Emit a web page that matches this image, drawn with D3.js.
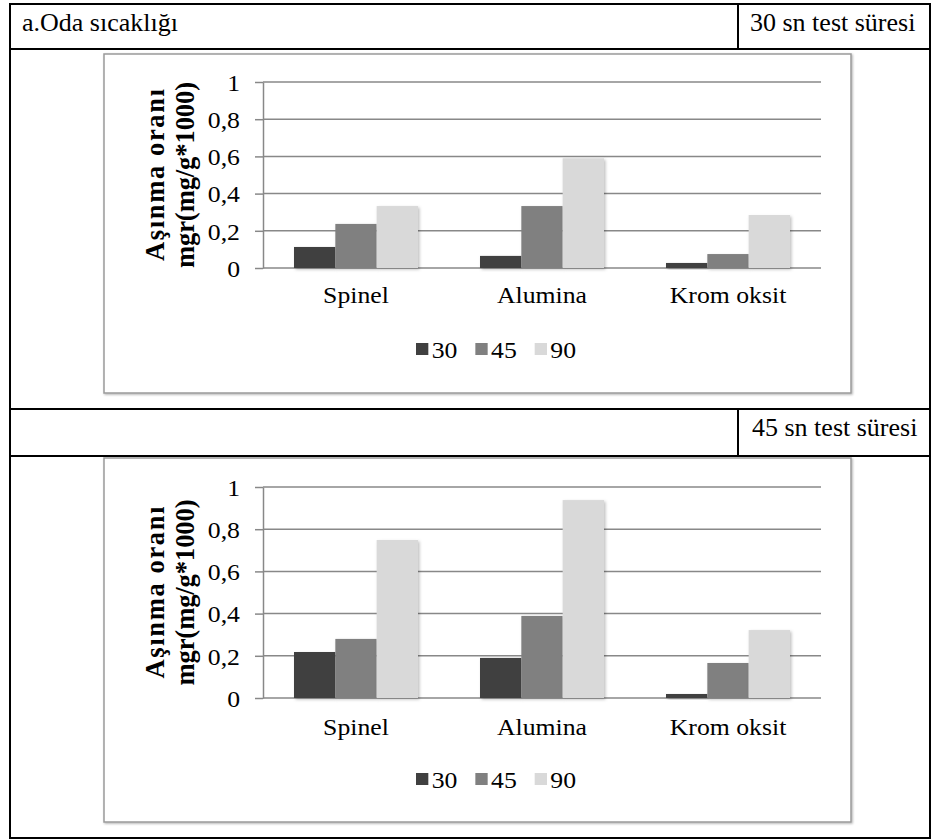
<!DOCTYPE html>
<html><head><meta charset="utf-8">
<script src="https://cdn.jsdelivr.net/npm/d3@7"></script>
<style>body{margin:0;background:#fff} svg{display:block}</style>
</head><body><svg id="c" width="931" height="839"></svg>
<script>
// ---- data ----
const categories = ["Spinel", "Alumina", "Krom oksit"];
const seriesNames = ["30", "45", "90"];
const chart1_s30 = [0.113, 0.065, 0.027];
const chart1_s45 = [0.237, 0.333, 0.075];
const chart1_s90 = [0.333, 0.590, 0.285];
const chart2_s30 = [0.218, 0.190, 0.019];
const chart2_s45 = [0.280, 0.389, 0.166];
const chart2_s90 = [0.749, 0.938, 0.322];
const tickValues = [0, 0.2, 0.4, 0.6, 0.8, 1];
const tickLabels = ["0", "0,2", "0,4", "0,6", "0,8", "1"];
const yTitle1 = "Aşınma oranı";
const yTitle2 = "mgr(mg/g*1000)";
const headerLeft = "a.Oda sıcaklığı";
const header1 = "30 sn test süresi";
const header2 = "45 sn test süresi";
const colors = ["#404040", "#808080", "#d9d9d9"];

// ---- drawing ----
const FONT = "'Liberation Serif','Times New Roman',serif";
const SX = 1.12;   // horizontal stretch of chart text
const FS = 23;
const svg = d3.select("#c");

const defs = svg.append("defs");
const f = defs.append("filter").attr("id", "sh").attr("x", "-20%").attr("y", "-20%").attr("width", "150%").attr("height", "150%");
f.append("feDropShadow").attr("dx", 1.5).attr("dy", 1.5).attr("stdDeviation", 1.8).attr("flood-color", "#000").attr("flood-opacity", 0.25);
const f2 = defs.append("filter").attr("id", "fsh").attr("x", "-5%").attr("y", "-5%").attr("width", "110%").attr("height", "110%");
f2.append("feDropShadow").attr("dx", 1).attr("dy", 1).attr("stdDeviation", 1).attr("flood-color", "#000").attr("flood-opacity", 0.3);

// table
const T = {l: 10, r: 930, t: 4, b: 838};
const tbl = svg.append("g").attr("stroke", "#000").attr("stroke-width", 2);
tbl.append("rect").attr("x", T.l).attr("y", T.t).attr("width", T.r - T.l).attr("height", T.b - T.t).attr("fill", "none");
[49, 409, 456].forEach(yy => tbl.append("line").attr("x1", T.l).attr("x2", T.r).attr("y1", yy).attr("y2", yy));
tbl.append("line").attr("x1", 738).attr("x2", 738).attr("y1", T.t).attr("y2", 49);
tbl.append("line").attr("x1", 738).attr("x2", 738).attr("y1", 409).attr("y2", 456);

const htext = (x, y, s) => svg.append("text").attr("x", x).attr("y", y).attr("font-family", FONT)
  .attr("font-size", 26).attr("fill", "#000").text(s);
htext(22, 31, headerLeft);
htext(750, 31, header1);
htext(752, 436, header2);

function drawChart(cfg, s30, s45, s90) {
  const series = [s30, s45, s90];
  const g = svg.append("g");
  g.append("rect").attr("x", cfg.fx0).attr("y", cfg.fy0).attr("width", cfg.fx1 - cfg.fx0).attr("height", cfg.fy1 - cfg.fy0)
    .attr("fill", "#fff").attr("stroke", "#9a9a9a").attr("stroke-width", 1.5).attr("filter", "url(#fsh)");

  const y = d3.scaleLinear().domain([0, 1]).range([cfg.y0, cfg.y1]);
  const x = d3.scaleBand().domain(categories).range([cfg.px0, cfg.px1]).paddingInner(1/3).paddingOuter(1/6);
  const xs = d3.scaleBand().domain(seriesNames).range([0, x.bandwidth()]);

  // gridlines
  g.append("g").selectAll("line").data(tickValues).join("line")
    .attr("x1", cfg.px0).attr("x2", cfg.px1).attr("y1", d => y(d)).attr("y2", d => y(d))
    .attr("stroke", "#888").attr("stroke-width", 1.5);

  // y axis
  const ya = g.append("g").attr("transform", `translate(${cfg.px0},0)`)
    .call(d3.axisLeft(y).tickValues(tickValues).tickFormat((d, i) => tickLabels[i]).tickSize(8).tickSizeOuter(0));
  ya.select(".domain").attr("stroke", "#888").attr("stroke-width", 1.5);
  ya.selectAll(".tick line").attr("stroke", "#888").attr("stroke-width", 1.5);
  ya.selectAll(".tick text").attr("font-family", FONT).attr("font-size", FS).attr("fill", "#000")
    .attr("x", -23 / SX).attr("dy", "0.36em").attr("transform", `scale(${SX},1)`);

  // bars
  const bars = g.append("g");
  series.forEach((vals, si) => {
    bars.selectAll(null).data(categories.map((c, i) => ({c, v: vals[i]}))).join("rect")
      .attr("x", d => x(d.c) + xs(seriesNames[si])).attr("width", xs.bandwidth())
      .attr("y", d => y(d.v)).attr("height", d => y(0) - y(d.v))
      .attr("fill", colors[si]).attr("filter", "url(#sh)");
  });

  // category axis
  const xa = g.append("g").attr("transform", `translate(0,${cfg.y0})`)
    .call(d3.axisBottom(x).tickSize(0).tickPadding(cfg.catPad));
  xa.select(".domain").remove();
  xa.selectAll(".tick text").attr("font-family", FONT).attr("font-size", FS).attr("fill", "#000")
    .attr("transform", `scale(${SX},1)`);

  // y title
  const cy = (cfg.y0 + cfg.y1) / 2;
  [[yTitle1, cfg.t1x, 172], [yTitle2, cfg.t2x, 186]].forEach(([s, tx, len]) => {
    g.append("text").attr("transform", `translate(${tx},${cy}) rotate(-90)`)
      .attr("text-anchor", "middle").attr("font-family", FONT).attr("font-weight", "bold")
      .attr("font-size", 26.5).attr("fill", "#000")
      .attr("textLength", len).attr("lengthAdjust", "spacing").text(s);
  });

  // legend
  const lg = g.append("g").attr("transform", `translate(${cfg.lx},${cfg.ly}) scale(${SX},1)`);
  let cx = 0;
  seriesNames.forEach((n, i) => {
    lg.append("rect").attr("x", cx).attr("y", -15).attr("width", 11).attr("height", 12).attr("fill", colors[i]);
    const t = lg.append("text").attr("x", cx + 14).attr("y", 0).attr("font-family", FONT).attr("font-size", FS).attr("fill", "#000").text(n);
    cx += 14 + t.node().getComputedTextLength() + 16;
  });
}

drawChart({fx0: 104, fx1: 851, fy0: 54, fy1: 393, px0: 263, px1: 821, y0: 268, y1: 82,
  catPad: 19, t1x: 164, t2x: 194, lx: 416, ly: 358}, chart1_s30, chart1_s45, chart1_s90);
drawChart({fx0: 104, fx1: 851, fy0: 458, fy1: 822, px0: 263, px1: 821, y0: 698, y1: 487,
  catPad: 21, t1x: 164, t2x: 194, lx: 416, ly: 788}, chart2_s30, chart2_s45, chart2_s90);
</script></body></html>
